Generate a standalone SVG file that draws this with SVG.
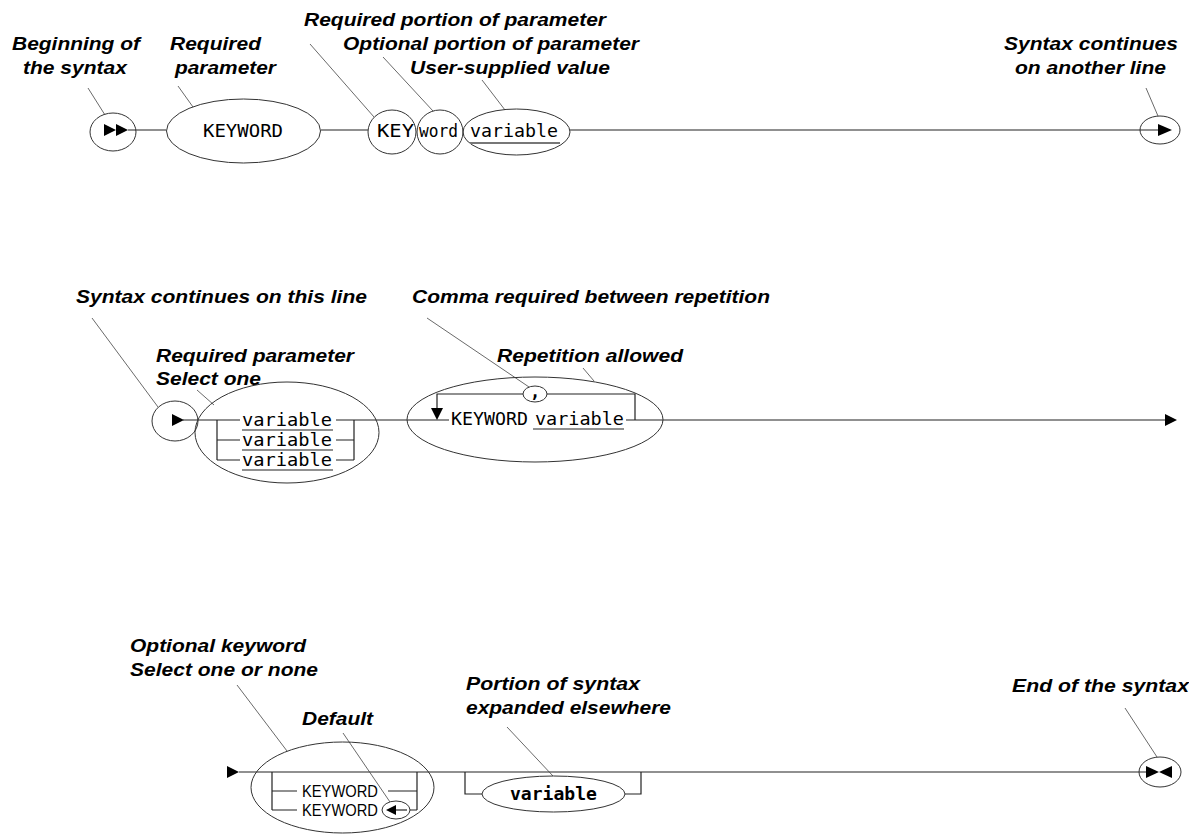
<svg xmlns="http://www.w3.org/2000/svg" width="1189" height="834" viewBox="0 0 1189 834">
<style>
.lbl{font-family:"Liberation Sans",Arial,sans-serif;font-weight:bold;font-style:italic;font-size:18px;fill:#000}
.mono{font-family:"DejaVu Sans Mono","Liberation Mono",monospace;font-size:17px;fill:#000}
.monob{font-family:"DejaVu Sans Mono","Liberation Mono",monospace;font-size:17px;font-weight:bold;fill:#000}
.sans{font-family:"Liberation Sans",Arial,sans-serif;font-size:17px;fill:#000}
.shape{fill:none;stroke:#333;stroke-width:1}
.line{fill:none;stroke:#222;stroke-width:1.2}
.leader{fill:none;stroke:#444;stroke-width:0.8}
.ul{stroke:#222;stroke-width:1.2}
.ulg{stroke:#777;stroke-width:2}
.arr{fill:#000;stroke:none}
</style>
<rect width="1189" height="834" fill="#fff"/>

<g id="labels">
<text class="lbl" x="12" y="50" textLength="128" lengthAdjust="spacingAndGlyphs">Beginning of</text>
<text class="lbl" x="23" y="74" textLength="104" lengthAdjust="spacingAndGlyphs">the syntax</text>
<text class="lbl" x="170" y="50" textLength="91" lengthAdjust="spacingAndGlyphs">Required</text>
<text class="lbl" x="175" y="74" textLength="101" lengthAdjust="spacingAndGlyphs">parameter</text>
<text class="lbl" x="304" y="26" textLength="302" lengthAdjust="spacingAndGlyphs">Required portion of parameter</text>
<text class="lbl" x="343" y="50" textLength="296" lengthAdjust="spacingAndGlyphs">Optional portion of parameter</text>
<text class="lbl" x="410" y="74" textLength="200" lengthAdjust="spacingAndGlyphs">User-supplied value</text>
<text class="lbl" x="1004" y="50" textLength="174" lengthAdjust="spacingAndGlyphs">Syntax continues</text>
<text class="lbl" x="1015" y="74" textLength="151" lengthAdjust="spacingAndGlyphs">on another line</text>
<text class="lbl" x="76" y="303" textLength="291" lengthAdjust="spacingAndGlyphs">Syntax continues on this line</text>
<text class="lbl" x="412" y="303" textLength="358" lengthAdjust="spacingAndGlyphs">Comma required between repetition</text>
<text class="lbl" x="156" y="362" textLength="198" lengthAdjust="spacingAndGlyphs">Required parameter</text>
<text class="lbl" x="156" y="385" textLength="105" lengthAdjust="spacingAndGlyphs">Select one</text>
<text class="lbl" x="497" y="362" textLength="186" lengthAdjust="spacingAndGlyphs">Repetition allowed</text>
<text class="lbl" x="130" y="652" textLength="176" lengthAdjust="spacingAndGlyphs">Optional keyword</text>
<text class="lbl" x="130" y="676" textLength="188" lengthAdjust="spacingAndGlyphs">Select one or none</text>
<text class="lbl" x="302" y="725" textLength="71" lengthAdjust="spacingAndGlyphs">Default</text>
<text class="lbl" x="466" y="690" textLength="174" lengthAdjust="spacingAndGlyphs">Portion of syntax</text>
<text class="lbl" x="466" y="714" textLength="205" lengthAdjust="spacingAndGlyphs">expanded elsewhere</text>
<text class="lbl" x="1012" y="692" textLength="177" lengthAdjust="spacingAndGlyphs">End of the syntax</text>
</g>

<g id="connectors">
<!-- row 1 main line -->
<line class="line" x1="128" y1="130" x2="166" y2="130"/>
<line class="line" x1="321" y1="130" x2="368" y2="130"/>
<line class="line" x1="570" y1="130" x2="1158" y2="130"/>
<!-- row 2 main line -->
<line class="line" x1="183" y1="420" x2="240" y2="420"/>
<line class="line" x1="336" y1="420" x2="449" y2="420"/>
<line class="line" x1="626" y1="420" x2="1165" y2="420"/>
<!-- row 3 main line -->
<line class="line" x1="239" y1="772" x2="1146" y2="772"/>
<!-- leader lines -->
<line class="leader" x1="88" y1="88" x2="105" y2="115"/>
<line class="leader" x1="178" y1="86" x2="193" y2="107"/>
<line class="leader" x1="310" y1="44" x2="374" y2="117"/>
<line class="leader" x1="383" y1="57" x2="433" y2="111"/>
<line class="leader" x1="482" y1="80" x2="505" y2="110"/>
<line class="leader" x1="1146" y1="88" x2="1158" y2="116"/>
<line class="leader" x1="92" y1="318" x2="158" y2="407"/>
<line class="leader" x1="197" y1="390" x2="214" y2="405"/>
<line class="leader" x1="427" y1="318" x2="529" y2="387"/>
<line class="leader" x1="583" y1="368" x2="594" y2="381"/>
<line class="leader" x1="237" y1="685" x2="287" y2="751"/>
<line class="leader" x1="343" y1="733" x2="390" y2="802"/>
<line class="leader" x1="507" y1="727" x2="553" y2="776"/>
<line class="leader" x1="1125" y1="708" x2="1157" y2="757"/>
</g>

<!-- Row 1 nodes -->
<g id="start1">
<ellipse class="shape" cx="113" cy="132" rx="23" ry="19"/>
<polygon class="arr" points="104,124 116,130 104,136"/>
<polygon class="arr" points="116,124 128,130 116,136"/>
</g>
<g id="keyword1">
<ellipse class="shape" cx="243.5" cy="131" rx="77" ry="32"/>
<text class="mono" x="203" y="137" textLength="80" lengthAdjust="spacingAndGlyphs">KEYWORD</text>
</g>
<g id="key1">
<ellipse class="shape" cx="392" cy="132" rx="24" ry="22"/>
<text class="mono" x="377" y="137" textLength="37" lengthAdjust="spacingAndGlyphs">KEY</text>
</g>
<g id="word1">
<ellipse class="shape" cx="440" cy="132" rx="23" ry="22"/>
<text class="mono" x="419" y="137" textLength="39" lengthAdjust="spacingAndGlyphs">word</text>
</g>
<g id="variable1">
<ellipse class="shape" cx="516.5" cy="132" rx="53.5" ry="23"/>
<text class="mono" x="470" y="137" textLength="88" lengthAdjust="spacingAndGlyphs">variable</text>
<line class="ulg" x1="470" y1="143" x2="560" y2="143"/>
</g>
<g id="cont1">
<ellipse class="shape" cx="1160" cy="130" rx="20" ry="14"/>
<polygon class="arr" points="1158,124 1172,130 1158,136"/>
</g>

<!-- Row 2 nodes -->
<g id="start2">
<ellipse class="shape" cx="175" cy="421" rx="23" ry="20"/>
<polygon class="arr" points="172,414 184,420 172,426"/>
</g>
<g id="select2">
<ellipse class="shape" cx="287" cy="432.5" rx="92" ry="50.5"/>
<path class="line" d="M217,420 V460 M217,440 H240 M217,460 H240 M336,440 H354 M336,460 H354 M354,420 V460"/>
<text class="mono" x="242" y="426" textLength="90" lengthAdjust="spacingAndGlyphs">variable</text>
<text class="mono" x="242" y="446" textLength="90" lengthAdjust="spacingAndGlyphs">variable</text>
<text class="mono" x="242" y="466" textLength="90" lengthAdjust="spacingAndGlyphs">variable</text>
<line class="ul" x1="242" y1="430" x2="333" y2="430"/>
<line class="ul" x1="242" y1="450" x2="333" y2="450"/>
<line class="ul" x1="242" y1="470" x2="333" y2="470"/>
</g>
<g id="repeat2">
<ellipse class="shape" cx="535" cy="419.5" rx="128" ry="42.5"/>
<path class="line" d="M635,420 V394 H547 M523,394 H437 V408"/>
<polygon class="arr" points="431,408 443,408 437,420"/>
<ellipse class="shape" cx="535" cy="394" rx="12" ry="8"/>
<text class="monob" x="530" y="398">,</text>
<text class="mono" x="451" y="425" textLength="77" lengthAdjust="spacingAndGlyphs">KEYWORD</text>
<text class="mono" x="535" y="425" textLength="89" lengthAdjust="spacingAndGlyphs">variable</text>
<line class="ul" x1="533" y1="429" x2="624" y2="429"/>
</g>
<g id="end2">
<polygon class="arr" points="1165,414 1177,420 1165,426"/>
</g>

<!-- Row 3 nodes -->
<g id="start3">
<polygon class="arr" points="227,766 239,772 227,778"/>
</g>
<g id="optional3">
<ellipse class="shape" cx="342.5" cy="787.5" rx="91.5" ry="45.5"/>
<path class="line" d="M272,772 V810 M272,791 H297 M272,810 H297 M388,791 H417 M410,810 H417 M417,772 V810"/>
<text class="sans" x="302" y="797" textLength="76" lengthAdjust="spacingAndGlyphs">KEYWORD</text>
<text class="sans" x="302" y="816" textLength="76" lengthAdjust="spacingAndGlyphs">KEYWORD</text>
</g>
<g id="default3">
<ellipse class="shape" cx="396" cy="810" rx="14" ry="9"/>
<polygon class="arr" points="386,810 396,805 396,815"/>
<line class="line" x1="396" y1="810" x2="407" y2="810"/>
</g>
<g id="expanded3">
<path class="line" d="M465,772 V794 H482 M625,794 H641 V772"/>
<ellipse class="shape" cx="553.5" cy="794" rx="71.5" ry="18"/>
<text class="monob" x="510" y="800" textLength="87" lengthAdjust="spacingAndGlyphs">variable</text>
</g>
<g id="end3">
<ellipse class="shape" cx="1160" cy="772" rx="21" ry="15"/>
<polygon class="arr" points="1146,766 1159,772 1146,778"/>
<polygon class="arr" points="1172,766 1159,772 1172,778"/>
</g>
</svg>
